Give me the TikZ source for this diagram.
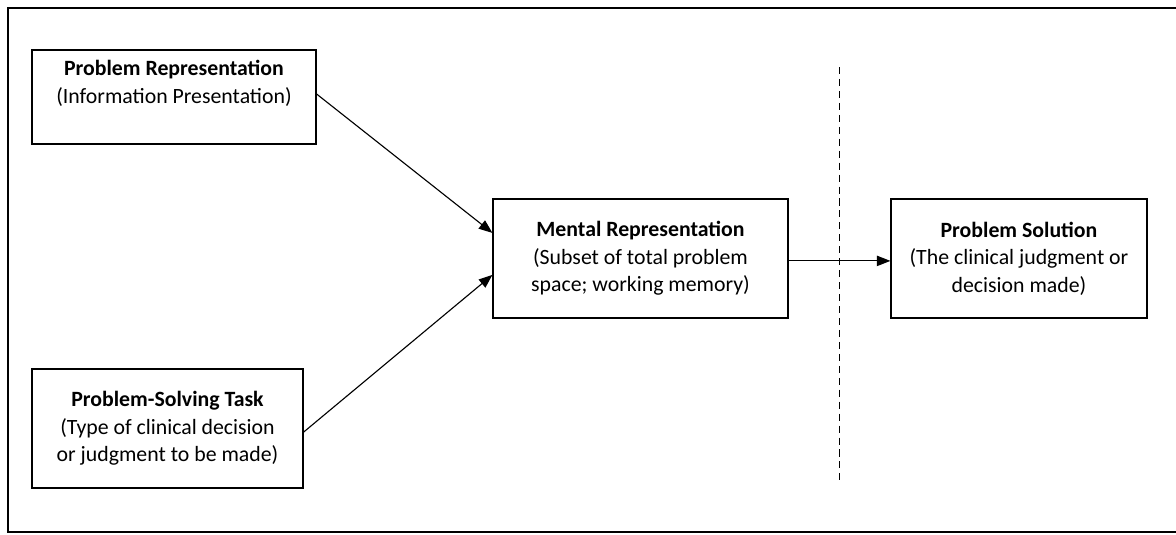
\documentclass[tikz,border=0pt]{standalone}
\usepackage{fontspec}
\setmainfont{Carlito}
\usetikzlibrary{arrows.meta}

\begin{document}
\begin{tikzpicture}[x=0.025cm,y=-0.025cm,
    box/.style={draw,thick,align=center,font=\fontsize{15.5}{19.5}\selectfont},
    flow/.style={-{Triangle[length=3.4mm,width=2.6mm]},thick}]

    \useasboundingbox (0,0) rectangle (1176,534);
    \draw[line width=1.4pt] (1176,8) -- (8,8) -- (8,532) -- (1176,532);

    \node[box,minimum width=7.1cm,minimum height=2.35cm] (rep) at (174,97)
        {\textbf{Problem Representation}\\(Information Presentation)\\[2pt]};
    \node[box,minimum width=6.775cm,minimum height=2.975cm] (task) at (167.5,428.5)
        {\textbf{Problem-Solving Task}\\(Type of clinical decision\\or judgment to be made)};
    \node[box,minimum width=7.375cm,minimum height=2.975cm] (mental) at (640.5,258.5)
        {\textbf{Mental Representation}\\(Subset of total problem\\space; working memory)};
    \node[box,minimum width=6.4cm,minimum height=2.975cm] (sol) at (1019,258.5)
        {\textbf{Problem Solution}\\(The clinical judgment or\\decision made)};

    \draw[flow] ([yshift=0.075cm]rep.east) -- ([yshift=0.64cm]mental.west);
    \draw[flow] ([yshift=-0.09cm]task.east) -- ([yshift=-0.41cm]mental.west);
    \draw[flow] ([yshift=-0.06cm]mental.east) -- ([yshift=-0.06cm]sol.west);

    \coordinate (cuttop) at (839,67);
    \coordinate (cutbot) at (839,485);
    \draw[dash pattern=on 5pt off 3.5pt] (cuttop) -- (cutbot);
\end{tikzpicture}
\end{document}
